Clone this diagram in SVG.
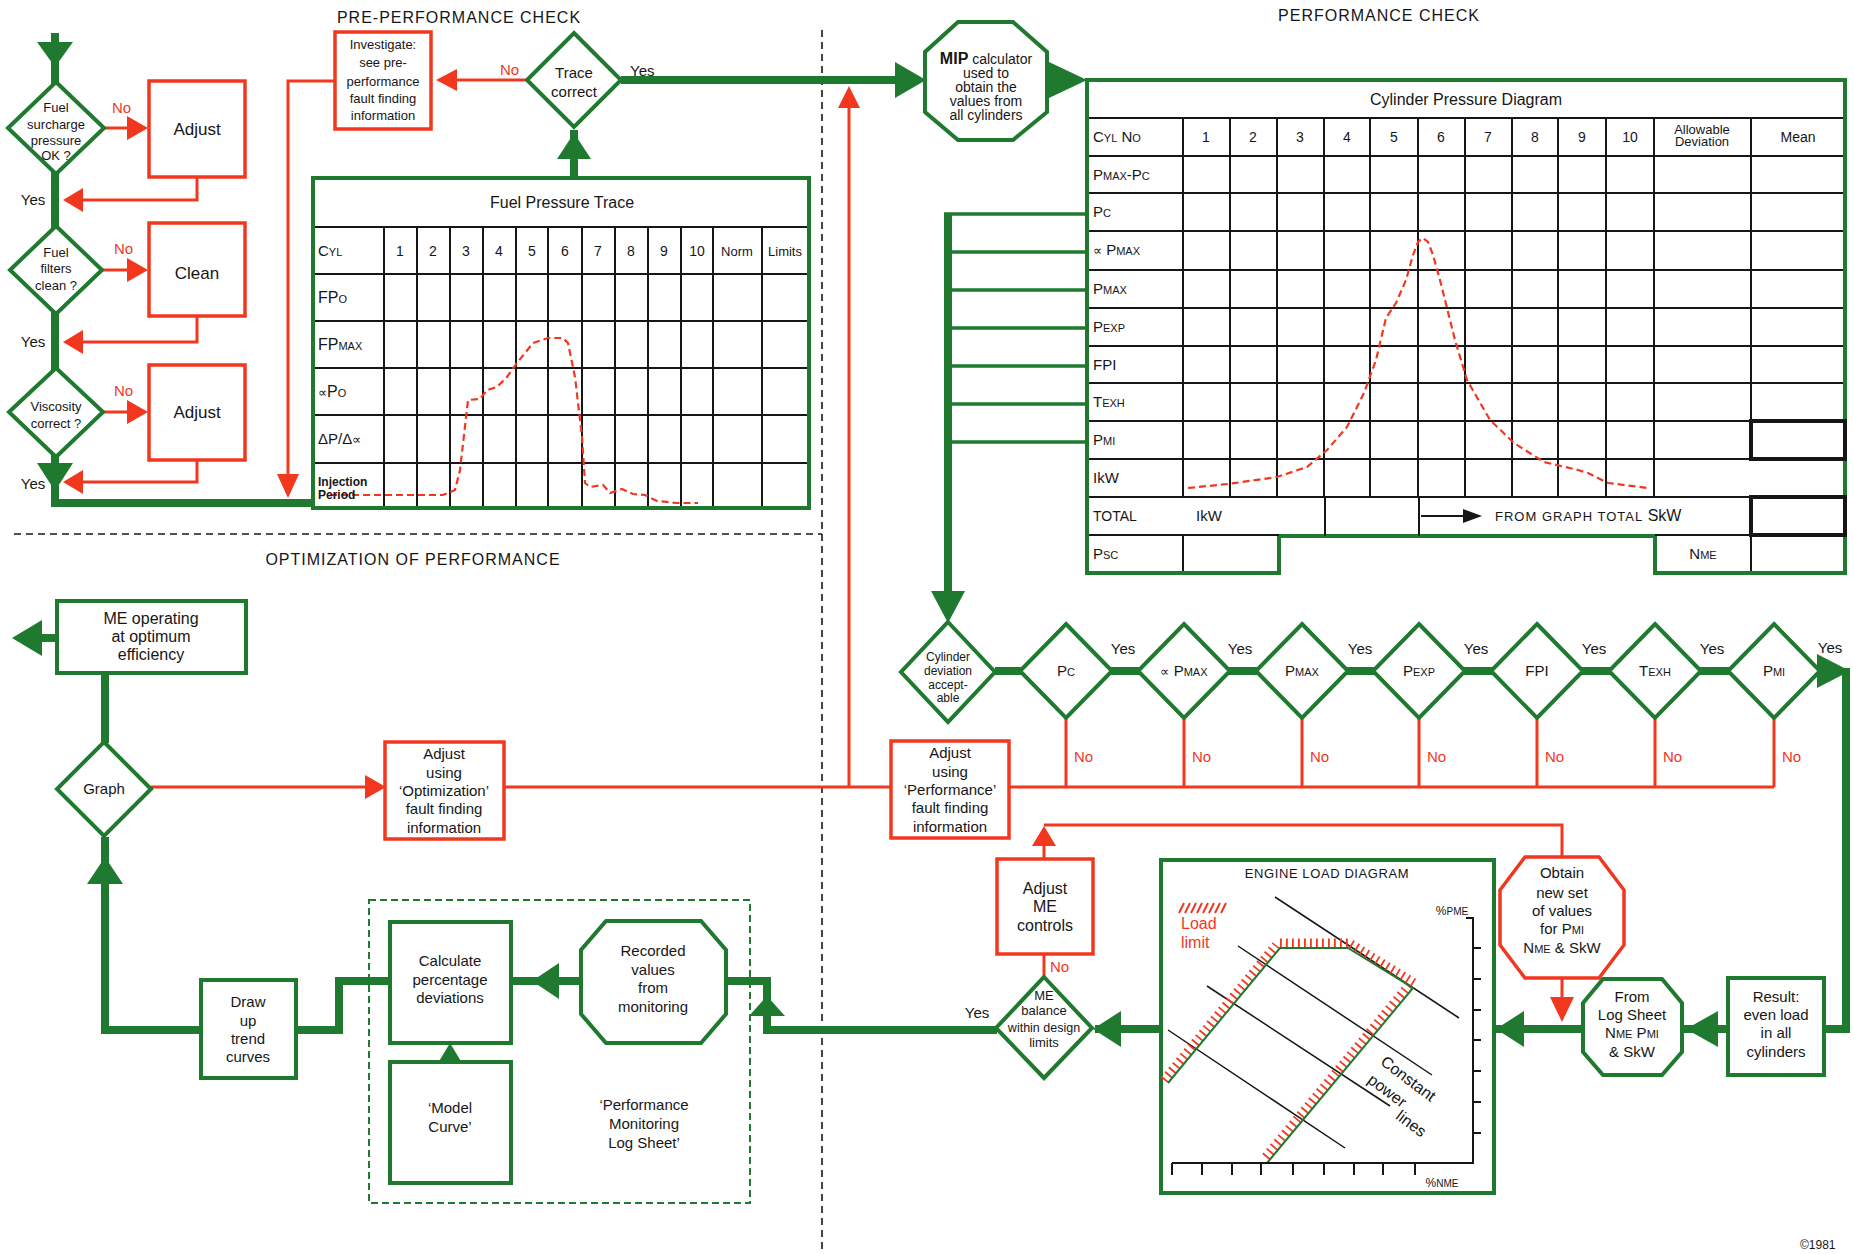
<svg xmlns="http://www.w3.org/2000/svg" width="1854" height="1254" viewBox="0 0 1854 1254">
<style>
text{font-family:"Liberation Sans",Arial,Helvetica,sans-serif;fill:#161616}
.m{text-anchor:middle}
.gn{fill:#fff;stroke:#1f7a30;stroke-width:4}
.rn{fill:#fff;stroke:#f2371f;stroke-width:3.5}
.gl{fill:none;stroke:#1f7a30;stroke-width:8}
.gt{fill:none;stroke:#1f7a30;stroke-width:3.5}
.rl{fill:none;stroke:#f2371f;stroke-width:3}
.gh{fill:#1f7a30}
.rh{fill:#f2371f}
.tl{stroke:#161616;stroke-width:2;fill:none}
.bx{stroke:#161616;stroke-width:4;fill:none}
.dash{stroke:#161616;stroke-width:1.6;stroke-dasharray:7 5;fill:none}
.gdash{stroke:#1f7a30;stroke-width:2;stroke-dasharray:7 4;fill:none}
.curve{fill:none;stroke:#f2371f;stroke-width:2.2;stroke-dasharray:7 4}
.hatch{fill:none;stroke:#f2371f;stroke-width:9;stroke-dasharray:1.8 4.2}
.thin{stroke:#161616;stroke-width:1.5;fill:none}
.no{fill:#f2371f;font-size:15px}
.yes{font-size:15px}
.f13{font-size:13px}
.f14{font-size:14px}
.f15{font-size:15px}
.f16{font-size:16px}
.f17{font-size:17px}
.sc{font-size:11px}
.al{font-size:13px}
.title{font-size:16px;letter-spacing:1px}
.red{fill:#f2371f}
</style>

<g id="dividers">
<line class="dash" x1="822" y1="30" x2="822" y2="1254"/>
<line class="dash" x1="14" y1="534" x2="822" y2="534"/>
</g>
<g id="section-titles">
<text class="title m" x="459" y="23">PRE-PERFORMANCE CHECK</text>
<text class="title m" x="1379" y="21">PERFORMANCE CHECK</text>
<text class="title m" x="413" y="565">OPTIMIZATION OF PERFORMANCE</text>
<text x="1800" y="1249" font-size="12">©1981</text>
</g>

<g id="connectors">
<path class="gl" d="M55,33 V503 H315"/>
<polygon class="gh" points="37,42 73,42 55,67"/>
<polygon class="gh" points="37,463 73,463 55,491"/>
<path class="rl" d="M104,128 H130"/><polygon class="rh" points="127,116 148,128 127,140"/>
<path class="rl" d="M102,270 H130"/><polygon class="rh" points="127,258 148,270 127,282"/>
<path class="rl" d="M103,412 H130"/><polygon class="rh" points="127,400 148,412 127,424"/>
<path class="rl" d="M197,177 V200 H80"/><polygon class="rh" points="63,200 83,188 83,212"/>
<path class="rl" d="M197,316 V342 H80"/><polygon class="rh" points="63,342 83,330 83,354"/>
<path class="rl" d="M197,460 V482 H80"/><polygon class="rh" points="63,482 83,470 83,494"/>
<path class="rl" d="M335,81 H288 V476"/><polygon class="rh" points="277,474 299,474 288,498"/>
<path class="rl" d="M527,80 H454"/><polygon class="rh" points="436,80 457,69 457,91"/>
<path class="gl" d="M574,178 V130"/><polygon class="gh" points="557,159 591,159 574,133"/>
<path class="gl" d="M621,80 H898"/><polygon class="gh" points="895,62 926,80 895,98"/>
<polygon class="gh" points="1049,62 1087,80 1049,98"/>
<path class="rl" d="M849,787 V104"/><polygon class="rh" points="838,108 860,108 849,86"/>
<path class="gl" stroke-width="9" d="M948,213 V596"/>
<path class="gt" d="M944,214 H1087 M948,252 H1087 M948,290 H1087 M948,328 H1087 M948,366 H1087 M948,404 H1087 M948,442 H1087"/>
<polygon class="gh" points="931,591 965,591 948,623"/>
<path class="gl" d="M995,671 H1822"/>
<polygon class="gh" points="1817,654 1850,671 1817,688"/>
<path class="gl" d="M1846,668 V1029 H1822"/>
<path class="rl" d="M1066,718 V787 M1184,718 V787 M1302,718 V787 M1419,718 V787 M1537,718 V787 M1655,718 V787 M1774,718 V787 M1009,787 H1774 M505,787 H891 M151,787 H367"/>
<polygon class="rh" points="365,775 386,787 365,799"/>
<path class="gl" d="M57,638 H38"/><polygon class="gh" points="12,638 42,620 42,656"/>
<path class="gl" d="M105,673 V743"/>
<path class="gl" d="M105,837 V1030 H201"/>
<polygon class="gh" points="87,884 123,884 105,857"/>
<path class="gl" d="M296,1030 H339 V981 H390"/>
<path class="gl" d="M450,1062 V1050"/><polygon class="gh" points="438,1063 462,1063 450,1043"/>
<path class="gl" d="M581,981 H511"/><polygon class="gh" points="532,981 559,963 559,999"/>
<path class="gl" d="M726,981 H767 V1030 H997"/>
<polygon class="gh" points="749,1016 785,1016 767,996"/>
<path class="gl" d="M1161,1029 H1095"/><polygon class="gh" points="1093,1029 1121,1011 1121,1047"/>
<path class="gl" d="M1583,1029 H1494"/><polygon class="gh" points="1496,1029 1524,1011 1524,1047"/>
<path class="gl" d="M1728,1029 H1682"/><polygon class="gh" points="1686,1029 1718,1011 1718,1047"/>
<path class="rl" d="M1562,978 V1000"/><polygon class="rh" points="1550,997 1574,997 1562,1022"/>
<path class="rl" d="M1044,977 V954"/>
<path class="rl" d="M1044,859 V840"/><polygon class="rh" points="1032,846 1056,846 1044,826"/>
<path class="rl" d="M1044,825 H1562 V857"/>
</g>

<g id="fuel-surcharge">
<polygon class="gn" points="56,82 104,128 56,174 8,128"/>
<text class="f13 m"><tspan x="56" y="112">Fuel</tspan><tspan x="56" y="129">surcharge</tspan><tspan x="56" y="145">pressure</tspan><tspan x="56" y="160">OK ?</tspan></text>
<text class="no" x="112" y="113">No</text>
<text class="yes m" x="33" y="205">Yes</text>
</g>
<g id="adjust-1"><rect class="rn" x="149" y="81" width="96" height="96"/><text class="f17 m" x="197" y="135">Adjust</text></g>
<g id="fuel-filters">
<polygon class="gn" points="56,226 102,270 56,314 10,270"/>
<text class="f13 m"><tspan x="56" y="257">Fuel</tspan><tspan x="56" y="273">filters</tspan><tspan x="56" y="290">clean ?</tspan></text>
<text class="no" x="114" y="254">No</text>
<text class="yes m" x="33" y="347">Yes</text>
</g>
<g id="clean"><rect class="rn" x="149" y="223" width="96" height="93"/><text class="f17 m" x="197" y="279">Clean</text></g>
<g id="viscosity">
<polygon class="gn" points="56,368 103,412 56,457 9,412"/>
<text class="f13 m"><tspan x="56" y="411">Viscosity</tspan><tspan x="56" y="428">correct ?</tspan></text>
<text class="no" x="114" y="396">No</text>
<text class="yes m" x="33" y="489">Yes</text>
</g>
<g id="adjust-3"><rect class="rn" x="149" y="365" width="96" height="95"/><text class="f17 m" x="197" y="418">Adjust</text></g>
<g id="investigate">
<rect class="rn" x="335" y="32" width="96" height="97"/>
<text class="f13 m"><tspan x="383" y="49">Investigate:</tspan><tspan x="383" y="67">see  pre-</tspan><tspan x="383" y="86">performance</tspan><tspan x="383" y="103">fault finding</tspan><tspan x="383" y="120">information</tspan></text>
</g>
<g id="trace-correct">
<polygon class="gn" points="574,33 621,80 574,127 527,80"/>
<text class="f15 m"><tspan x="574" y="78">Trace</tspan><tspan x="574" y="97">correct</tspan></text>
<text class="no" x="500" y="75">No</text>
<text class="f15" x="630" y="76">Yes</text>
</g>

<g id="fuel-pressure-trace">
<rect x="313" y="178" width="496" height="330" fill="#fff" stroke="#1f7a30" stroke-width="4"/>
<path class="tl" d="M315,227H807 M315,274H807 M315,321H807 M315,368H807 M315,415H807 M315,463H807 M384,227V506 M417,227V506 M450,227V506 M483,227V506 M516,227V506 M548,227V506 M582,227V506 M615,227V506 M648,227V506 M681,227V506 M713,227V506 M762,227V506"/>
<polyline class="curve" points="330,495 390,495 443,495 455,490 460,470 468,400 480,399 487,390 497,387 507,377 517,363 533,343 548,338 563,338 568,343 575,377 582,437 585,483 590,487 603,485 610,493 622,489 633,494 645,495 657,501 677,503 698,503"/>
<text class="f16 m" x="562" y="208">Fuel Pressure Trace</text>
<text class="f15" x="318" y="256">C<tspan class="sc">YL</tspan></text>
<text class="f14 m"><tspan x="400" y="256">1</tspan><tspan x="433" y="256">2</tspan><tspan x="466" y="256">3</tspan><tspan x="499" y="256">4</tspan><tspan x="532" y="256">5</tspan><tspan x="565" y="256">6</tspan><tspan x="598" y="256">7</tspan><tspan x="631" y="256">8</tspan><tspan x="664" y="256">9</tspan><tspan x="697" y="256">10</tspan></text>
<text class="f13 m"><tspan x="737" y="256">Norm</tspan><tspan x="785" y="256">Limits</tspan></text>
<text class="f16" x="318" y="303">FP<tspan class="sc" font-size="12">O</tspan></text>
<text class="f16" x="318" y="350">FP<tspan class="sc">MAX</tspan></text>
<text class="f16" x="318" y="397"><tspan class="al">∝</tspan>P<tspan class="sc" font-size="12">O</tspan></text>
<text class="f15" x="318" y="444">ΔP/Δ<tspan class="al">∝</tspan></text>
<text font-size="12" font-weight="bold"><tspan x="318" y="486">Injection</tspan><tspan x="318" y="499">Period</tspan></text>
</g>

<g id="mip-calculator">
<polygon class="gn" points="958,22 1013,22 1047,52 1047,112 1013,140 958,140 925,112 925,52"/>
<text class="f14 m"><tspan x="986" y="64"><tspan font-size="16" font-weight="bold">MIP</tspan> calculator</tspan><tspan x="986" y="78">used to</tspan><tspan x="986" y="92">obtain the</tspan><tspan x="986" y="106">values from</tspan><tspan x="986" y="120">all cylinders</tspan></text>
</g>

<g id="cylinder-pressure-diagram">
<path d="M1087,80 H1845 V573 H1655 V536 H1279 V573 H1087 Z" fill="#fff" stroke="#1f7a30" stroke-width="4"/>
<path class="tl" d="M1089,118H1843 M1089,156H1843 M1089,193H1843 M1089,231H1843 M1089,270H1843 M1089,308H1843 M1089,346H1843 M1089,383H1843 M1089,421H1843 M1089,459H1843 M1089,497H1843 M1089,535H1279 M1655,535H1843 M1183,118V497 M1230,118V497 M1277,118V497 M1324,118V497 M1370,118V497 M1418,118V497 M1465,118V497 M1512,118V497 M1558,118V497 M1606,118V497 M1654,118V497 M1751,118V459 M1325,497V536 M1419,497V536 M1183,535V571 M1751,535V571"/>
<rect class="bx" x="1751" y="421" width="94" height="38"/>
<rect class="bx" x="1751" y="497" width="94" height="38"/>
<polyline class="curve" points="1188,488 1228,484 1277,477 1307,467 1327,450 1347,427 1364,393 1376,360 1386,318 1396,303 1406,280 1413,255 1418,242 1423,238 1428,242 1433,255 1440,280 1455,340 1467,380 1490,420 1514,443 1544,462 1578,470 1588,473 1608,483 1648,488"/>
<text class="f16 m" x="1466" y="105">Cylinder Pressure Diagram</text>
<text class="f15" x="1093" y="142">C<tspan class="sc">YL</tspan> N<tspan class="sc">O</tspan></text>
<text class="f14 m"><tspan x="1206" y="142">1</tspan><tspan x="1253" y="142">2</tspan><tspan x="1300" y="142">3</tspan><tspan x="1347" y="142">4</tspan><tspan x="1394" y="142">5</tspan><tspan x="1441" y="142">6</tspan><tspan x="1488" y="142">7</tspan><tspan x="1535" y="142">8</tspan><tspan x="1582" y="142">9</tspan><tspan x="1630" y="142">10</tspan><tspan x="1798" y="142">Mean</tspan></text>
<text font-size="13" class="m"><tspan x="1702" y="134">Allowable</tspan><tspan x="1702" y="146">Deviation</tspan></text>
<text class="f15" x="1093" y="180">P<tspan class="sc">MAX</tspan>-P<tspan class="sc">C</tspan></text>
<text class="f15" x="1093" y="217">P<tspan class="sc">C</tspan></text>
<text class="f15" x="1093" y="255"><tspan class="al">∝</tspan> P<tspan class="sc">MAX</tspan></text>
<text class="f15" x="1093" y="294">P<tspan class="sc">MAX</tspan></text>
<text class="f15" x="1093" y="332">P<tspan class="sc">EXP</tspan></text>
<text class="f15" x="1093" y="370">FPI</text>
<text class="f15" x="1093" y="407">T<tspan class="sc">EXH</tspan></text>
<text class="f15" x="1093" y="445">P<tspan class="sc">MI</tspan></text>
<text class="f15" x="1093" y="483">IkW</text>
<text font-size="14" x="1093" y="521">TOTAL</text>
<text class="f15" x="1196" y="521">IkW</text>
<line class="tl" x1="1421" y1="516" x2="1466" y2="516"/>
<polygon fill="#161616" points="1463,509 1482,516 1463,523"/>
<text font-size="13" x="1495" y="521" letter-spacing="1">FROM GRAPH TOTAL<tspan font-size="16" letter-spacing="0"> SkW</tspan></text>
<text class="f15" x="1093" y="559">P<tspan class="sc">SC</tspan></text>
<text class="f15 m" x="1703" y="559">N<tspan class="sc">ME</tspan></text>
</g>

<g id="cylinder-deviation">
<polygon class="gn" points="948,622 995,672 948,722 901,672"/>
<text font-size="12" class="m"><tspan x="948" y="661">Cylinder</tspan><tspan x="948" y="675">deviation</tspan><tspan x="948" y="689">accept-</tspan><tspan x="948" y="702">able</tspan></text>
</g>
<g id="check-pc"><polygon class="gn" points="1066,624 1112,671 1066,718 1020,671"/><text class="f15 m" x="1066" y="676">P<tspan class="sc">C</tspan></text><text class="yes m" x="1123" y="654">Yes</text><text class="no" x="1074" y="762">No</text></g>
<g id="check-apmax"><polygon class="gn" points="1184,624 1230,671 1184,718 1138,671"/><text class="f15 m" x="1184" y="676"><tspan class="al">∝</tspan> P<tspan class="sc">MAX</tspan></text><text class="yes m" x="1240" y="654">Yes</text><text class="no" x="1192" y="762">No</text></g>
<g id="check-pmax"><polygon class="gn" points="1302,624 1348,671 1302,718 1256,671"/><text class="f15 m" x="1302" y="676">P<tspan class="sc">MAX</tspan></text><text class="yes m" x="1360" y="654">Yes</text><text class="no" x="1310" y="762">No</text></g>
<g id="check-pexp"><polygon class="gn" points="1419,624 1465,671 1419,718 1373,671"/><text class="f15 m" x="1419" y="676">P<tspan class="sc">EXP</tspan></text><text class="yes m" x="1476" y="654">Yes</text><text class="no" x="1427" y="762">No</text></g>
<g id="check-fpi"><polygon class="gn" points="1537,624 1583,671 1537,718 1491,671"/><text class="f15 m" x="1537" y="676">FPI</text><text class="yes m" x="1594" y="654">Yes</text><text class="no" x="1545" y="762">No</text></g>
<g id="check-texh"><polygon class="gn" points="1655,624 1701,671 1655,718 1609,671"/><text class="f15 m" x="1655" y="676">T<tspan class="sc">EXH</tspan></text><text class="yes m" x="1712" y="654">Yes</text><text class="no" x="1663" y="762">No</text></g>
<g id="check-pmi"><polygon class="gn" points="1774,624 1820,671 1774,718 1728,671"/><text class="f15 m" x="1774" y="676">P<tspan class="sc">MI</tspan></text><text class="yes m" x="1830" y="653">Yes</text><text class="no" x="1782" y="762">No</text></g>

<g id="adjust-performance">
<rect class="rn" x="891" y="741" width="118" height="97"/>
<text class="f15 m"><tspan x="950" y="758">Adjust</tspan><tspan x="950" y="777">using</tspan><tspan x="950" y="795">‘Performance’</tspan><tspan x="950" y="813">fault finding</tspan><tspan x="950" y="832">information</tspan></text>
</g>
<g id="adjust-optimization">
<rect class="rn" x="385" y="742" width="119" height="97"/>
<text class="f15 m"><tspan x="444" y="759">Adjust</tspan><tspan x="444" y="778">using</tspan><tspan x="444" y="796">‘Optimization’</tspan><tspan x="444" y="814">fault finding</tspan><tspan x="444" y="833">information</tspan></text>
</g>
<g id="me-operating">
<rect class="gn" x="57" y="601" width="189" height="72"/>
<text class="f16 m"><tspan x="151" y="624">ME operating</tspan><tspan x="151" y="642">at optimum</tspan><tspan x="151" y="660">efficiency</tspan></text>
</g>
<g id="graph">
<polygon class="gn" points="104,742 151,789 104,836 57,789"/>
<text class="f15 m" x="104" y="794">Graph</text>
</g>
<g id="draw-up">
<rect class="gn" x="201" y="980" width="95" height="98"/>
<text class="f15 m"><tspan x="248" y="1007">Draw</tspan><tspan x="248" y="1026">up</tspan><tspan x="248" y="1044">trend</tspan><tspan x="248" y="1062">curves</tspan></text>
</g>
<g id="log-sheet-group">
<rect class="gdash" x="369" y="900" width="381" height="303"/>
<text class="f15 m"><tspan x="644" y="1110">‘Performance</tspan><tspan x="644" y="1129">Monitoring</tspan><tspan x="644" y="1148">Log Sheet’</tspan></text>
</g>
<g id="calculate">
<rect class="gn" x="390" y="922" width="121" height="121"/>
<text class="f15 m"><tspan x="450" y="966">Calculate</tspan><tspan x="450" y="985">percentage</tspan><tspan x="450" y="1003">deviations</tspan></text>
</g>
<g id="model-curve">
<rect class="gn" x="390" y="1062" width="121" height="121"/>
<text class="f15 m"><tspan x="450" y="1113">‘Model</tspan><tspan x="450" y="1132">Curve’</tspan></text>
</g>
<g id="recorded-values">
<polygon class="gn" points="606,921 701,921 726,950 726,1014 701,1043 606,1043 581,1014 581,950"/>
<text class="f15 m"><tspan x="653" y="956">Recorded</tspan><tspan x="653" y="975">values</tspan><tspan x="653" y="993">from</tspan><tspan x="653" y="1012">monitoring</tspan></text>
</g>
<g id="me-balance">
<polygon class="gn" points="1044,977 1092,1028 1044,1078 996,1028"/>
<text font-size="13" class="m"><tspan x="1044" y="1000">ME</tspan><tspan x="1044" y="1015">balance</tspan><tspan x="1044" y="1032" font-size="12.5">within design</tspan><tspan x="1044" y="1047">limits</tspan></text>
<text class="yes m" x="977" y="1018">Yes</text>
<text class="no" x="1050" y="972">No</text>
</g>
<g id="adjust-me-controls">
<rect class="rn" x="997" y="859" width="96" height="95"/>
<text class="f16 m"><tspan x="1045" y="894">Adjust</tspan><tspan x="1045" y="912">ME</tspan><tspan x="1045" y="931">controls</tspan></text>
</g>

<g id="engine-load-diagram">
<rect class="gn" x="1161" y="860" width="333" height="333"/>
<text font-size="13" class="m" x="1327" y="878" letter-spacing="0.6">ENGINE LOAD DIAGRAM</text>
<path d="M1179,913 l5,-10 M1185,913 l5,-10 M1191,913 l5,-10 M1197,913 l5,-10 M1203,913 l5,-10 M1209,913 l5,-10 M1215,913 l5,-10 M1221,913 l5,-10" stroke="#f2371f" stroke-width="2"/>
<text class="f16 red"><tspan x="1181" y="929">Load</tspan><tspan x="1181" y="948">limit</tspan></text>
<path class="thin" d="M1275,897 L1459,1018 M1238,946 L1432,1075 M1207,986 L1390,1106 M1168,1030 L1345,1148"/>
<line class="hatch" x1="1164" y1="1080" x2="1276" y2="945"/>
<line class="hatch" x1="1280" y1="943" x2="1348" y2="943"/>
<line class="hatch" x1="1351" y1="944" x2="1416" y2="984"/>
<line class="hatch" x1="1409" y1="985" x2="1263" y2="1160"/>
<polyline fill="none" stroke="#1f7a30" stroke-width="2" points="1168,1083 1280,948 1348,948 1413,988 1267,1163"/>
<path class="tl" d="M1466,918 H1473 V1163 H1172 M1473,948 h8 M1473,979 h8 M1473,1010 h8 M1473,1040 h8 M1473,1071 h8 M1473,1102 h8 M1473,1133 h8 M1172,1163 v12 M1202,1163 v12 M1232,1163 v12 M1261,1163 v12 M1293,1163 v12 M1324,1163 v12 M1354,1163 v12 M1383,1163 v12 M1415,1163 v12"/>
<text font-size="12" class="m" x="1452" y="915">%<tspan font-size="10">PME</tspan></text>
<text font-size="12" class="m" x="1442" y="1187">%<tspan font-size="10">NME</tspan></text>
<text class="f16 m" transform="translate(1405,1083) rotate(37)">Constant</text>
<text class="f16 m" transform="translate(1384,1095) rotate(37)">power</text>
<text class="f16 m" transform="translate(1408,1128) rotate(37)">lines</text>
</g>
<g id="obtain-values">
<polygon class="rn" points="1525,857 1599,857 1624,890 1624,945 1599,978 1525,978 1500,945 1500,890"/>
<text class="f15 m"><tspan x="1562" y="878">Obtain</tspan><tspan x="1562" y="898">new set</tspan><tspan x="1562" y="916">of values</tspan><tspan x="1562" y="934">for P<tspan class="sc">MI</tspan></tspan><tspan x="1562" y="953">N<tspan class="sc">ME</tspan> &amp; SkW</tspan></text>
</g>
<g id="from-log-sheet">
<polygon class="gn" points="1603,979 1662,979 1682,1003 1682,1052 1662,1075 1603,1075 1583,1052 1583,1003"/>
<text class="f15 m"><tspan x="1632" y="1002">From</tspan><tspan x="1632" y="1020">Log Sheet</tspan><tspan x="1632" y="1038">N<tspan class="sc">ME</tspan> P<tspan class="sc">MI</tspan></tspan><tspan x="1632" y="1057">&amp; SkW</tspan></text>
</g>
<g id="result">
<rect class="gn" x="1728" y="978" width="96" height="97"/>
<text class="f15 m"><tspan x="1776" y="1002">Result:</tspan><tspan x="1776" y="1020">even load</tspan><tspan x="1776" y="1038">in all</tspan><tspan x="1776" y="1057">cylinders</tspan></text>
</g>
</svg>
